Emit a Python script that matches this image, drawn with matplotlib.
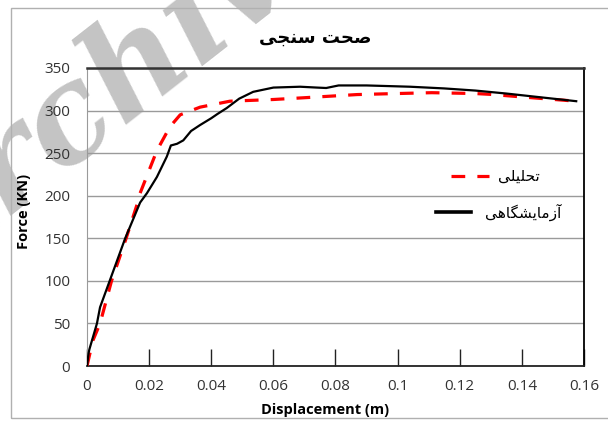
import matplotlib
matplotlib.use('Agg')
from matplotlib import pyplot as plt
from matplotlib.patches import Rectangle
from matplotlib.lines import Line2D

# analytical curve (red dashed)
x_tahlili = [0, 0.0019, 0.0042, 0.0079, 0.0126, 0.0165, 0.0171, 0.0225, 0.0267, 0.030,
             0.0364, 0.046, 0.06, 0.0696, 0.087, 0.0954, 0.111, 0.125, 0.13, 0.14, 0.1575]
y_tahlili = [0, 30, 50, 100, 150, 194, 203, 253, 281, 295,
             304, 311, 313, 315, 318.8, 319.6, 321, 320, 319, 316, 311]

# experimental curve (black)
x_azmayesh = [0, 0.0005, 0.0008, 0.0032, 0.0042, 0.0074, 0.0123, 0.0171, 0.0193, 0.0225,
              0.0257, 0.027, 0.029, 0.031, 0.0335, 0.0364, 0.040, 0.042, 0.045, 0.049,
              0.0535, 0.060, 0.0686, 0.074, 0.077, 0.081, 0.09, 0.104, 0.115, 0.125,
              0.135, 0.1575]
y_azmayesh = [0, 15, 20, 50, 69, 101, 150, 192, 203, 222,
              246, 259, 261, 265, 276, 283, 291, 296, 303, 314,
              322, 327, 328, 327, 326.5, 329.5, 329.5, 328, 326, 323.5,
              320, 311]

x_ticks = [0, 0.02, 0.04, 0.06, 0.08, 0.1, 0.12, 0.14, 0.16]
x_tick_labels = ['0', '0.02', '0.04', '0.06', '0.08', '0.1', '0.12', '0.14', '0.16']
y_ticks = [0, 50, 100, 150, 200, 250, 300, 350]


def rtl(chars):
    # chars are already in presentation forms, logical order
    return ''.join(reversed(chars))


title_fa = rtl('\uFEBB\uFEA4\uFE96 \uFEB3\uFEE8\uFEA0\uFEF0')          # صحت سنجی
label_tahlili = rtl('\uFE97\uFEA4\uFEE0\uFEF4\uFEE0\uFEF0')            # تحلیلی
label_azmayesh = rtl('\uFE81\uFEAF\uFEE3\uFE8E\uFEF3\uFEB8\uFB95\uFE8E\uFEEB\uFEF0')  # آزمایشگاهی

fa_font = ['DejaVu Sans', 'Noto Sans']
red_dash = (4.3, 3.8)

fig = plt.figure(figsize=(6.08, 4.21), dpi=100)
ax = fig.add_axes([0.1431, 0.1306, 0.8174, 0.7079])

# watermark (under the axes)
fig.text(0.205, 0.79, 'Archive', rotation=38, fontsize=95, color='#c4c4c4',
         family='DejaVu Serif', style='italic', fontweight='bold',
         ha='center', va='center', zorder=-1)
# outer frame, open on the right like the reference
fig.patches.append(Rectangle((11 / 608, 3 / 421), 620 / 608, 410.5 / 421, transform=fig.transFigure,
                             fill=False, edgecolor='#b0b0b0', linewidth=1))

ax.plot(x_tahlili, y_tahlili, color='#ff0000', linewidth=2.3, dashes=red_dash, zorder=3)
ax.plot(x_azmayesh, y_azmayesh, color='black', linewidth=1.6, zorder=4)

ax.set_xlim(0, 0.16)
ax.set_ylim(0, 350)
ax.set_xticks(x_ticks)
ax.set_xticklabels(x_tick_labels)
ax.set_yticks(y_ticks)
ax.set_facecolor('none')
ax.yaxis.grid(True, color='#9a9a9a', linewidth=1)
ax.set_axisbelow(True)
ax.tick_params(axis='x', direction='in', length=12, width=1, labelsize=11, pad=9,
               colors='#222222', labelcolor='#333333')
ax.tick_params(axis='y', length=0, labelsize=11, pad=12, labelcolor='#333333')
for lab in ax.get_xticklabels() + ax.get_yticklabels():
    lab.set_family('Open Sans')

ax.spines['top'].set_color('#333333')
ax.spines['top'].set_linewidth(1.8)
ax.spines['right'].set_color('black')
ax.spines['right'].set_linewidth(1.3)
ax.spines['bottom'].set_color('#222222')
ax.spines['bottom'].set_linewidth(1.3)
ax.spines['left'].set_color('#9a9a9a')

ax.set_xlabel('Displacement (m)', fontsize=10.5, fontweight='bold', family='Open Sans', labelpad=6)
ax.xaxis.set_label_coords(0.479, -0.125)
ax.set_ylabel('Force (KN)', fontsize=10.5, fontweight='bold', family='Open Sans')
ax.yaxis.set_label_coords(-0.113, 0.52)

fig.text(0.518, 0.91, title_fa, fontsize=13, fontweight='bold', family=fa_font, ha='center', va='center')

# two separate legend entries, placed as in the reference
h_red = Line2D([], [], color='#ff0000', linewidth=2.3, dashes=red_dash)
h_black = Line2D([], [], color='black', linewidth=2.6)
leg1 = ax.legend([h_red], [label_tahlili], loc='center left', bbox_to_anchor=(0.72, 0.636),
                 frameon=False, handlelength=2.5, handletextpad=0.55, borderaxespad=0,
                 prop={'family': fa_font, 'size': 11})
ax.add_artist(leg1)
ax.legend([h_black], [label_azmayesh], loc='center left', bbox_to_anchor=(0.69, 0.516),
          frameon=False, handlelength=2.3, handletextpad=0.9, borderaxespad=0,
          prop={'family': fa_font, 'size': 11})

fig.savefig('out.png', dpi=100)
